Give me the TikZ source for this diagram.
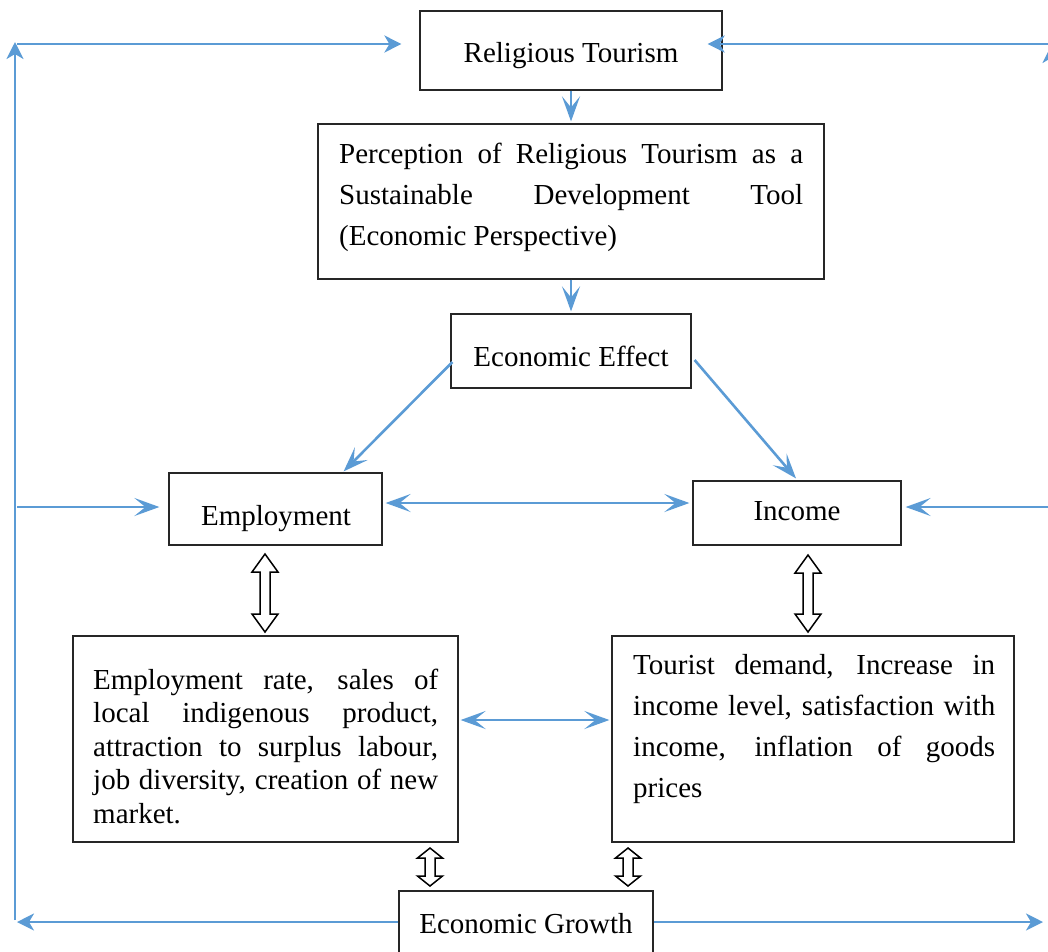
\documentclass[tikz,border=0pt]{standalone}
\usepackage{fontspec}
\setmainfont{Liberation Serif}
\usetikzlibrary{arrows.meta,calc}
\definecolor{lblue}{HTML}{5B9BD5}
\tikzset{
  box/.style={draw=black!85, line width=1.2pt, fill=none, inner sep=0pt},
  txt/.style={inner sep=0pt, font=\fontsize{29}{41}\selectfont},
  ptxt/.style={inner sep=0pt, align=justify, font=\fontsize{29}{41}\selectfont},
  sharr/.style={draw=lblue, line width=2.6pt, -{Stealth[length=17pt,width=17pt,inset=5pt]}},
  lgarr/.style={draw=lblue, line width=2.6pt, -{Stealth[length=25pt,width=18pt,inset=11pt]}},
  lgdarr/.style={draw=lblue, line width=2.6pt, {Stealth[length=25pt,width=18pt,inset=11pt]}-{Stealth[length=25pt,width=18pt,inset=11pt]}},
  hollow/.style={draw=black, line width=1.5pt, fill=white, line join=miter}
}
\newcommand\hollowarrow[5]{%
  \draw[hollow] (#1,#2) -- (#1+#5,#2+#4) -- (#1+5,#2+#4) -- (#1+5,#3-#4) -- (#1+#5,#3-#4) -- (#1,#3) -- (#1-#5,#3-#4) -- (#1-5,#3-#4) -- (#1-5,#2+#4) -- (#1-#5,#2+#4) -- cycle;}
\begin{document}
\begin{tikzpicture}[x=1pt,y=-1pt]
\useasboundingbox (0,0) rectangle (1048,951);
\clip (0,0) rectangle (1048,951);

% boxes
\node[box, minimum width=302, minimum height=79] (rt) at (571,50.5) {};
\node[txt, anchor=base] (rtt) at (571,62) {Religious Tourism};

\node[box, minimum width=506, minimum height=155] (perc) at (571,201.5) {};
\node[ptxt, text width=464, anchor=base west] (perct) at (339,163)
  {Perception of Religious Tourism as a\linebreak Sustainable Development Tool\linebreak (Economic Perspective)};

\node[box, minimum width=240, minimum height=74] (ee) at (571,351) {};
\node[txt, anchor=base] (eet) at (571,366) {Economic Effect};

\node[box, minimum width=213, minimum height=72] (emp) at (275.5,509) {};
\node[txt, anchor=base] (empt) at (276,525) {Employment};

\node[box, minimum width=208, minimum height=64] (inc) at (797,513) {};
\node[txt, anchor=base] (inct) at (797,520) {Income};

\node[box, minimum width=385, minimum height=206] (lb) at (265.5,739) {};
\node[ptxt, text width=345, anchor=base west, font=\fontsize{29}{33.5}\selectfont] (lbt) at (93,689)
  {Employment rate, sales of\linebreak local indigenous product,\linebreak attraction to surplus labour,\linebreak job diversity, creation of new\linebreak market.};

\node[box, minimum width=402, minimum height=206] (rb) at (813,739) {};
\node[ptxt, text width=362, anchor=base west] (rbt) at (633,674)
  {Tourist demand, Increase in\linebreak income level, satisfaction with\linebreak income, inflation of goods\linebreak prices};

\node[box, minimum width=254, minimum height=70] (eg) at (526,926) {};
\node[txt, anchor=base] (egt) at (526,933) {Economic Growth};

% outer frame coordinates
\coordinate (bl) at (15,920);
\coordinate (tl) at (15,42);
\coordinate (tlh) at (17,44);
\coordinate (tr) at (1048,44);
\coordinate (brv) at (1051,922);
\coordinate (trv) at (1051,46);
\coordinate (ml) at (17,507);
\coordinate (mr) at (1048,507);
\coordinate (bll) at (17,922);
\coordinate (brr) at (1043,922);

% outer loop arrows
\draw[sharr] (bl) -- (tl);
\draw[sharr] (tlh) -- ($(rt.west)+(-18,-6.5)$);
\draw[sharr] (tr) -- ($(rt.east)+(-15,-6.5)$);
\draw[sharr] (brv) -- (trv);
\draw[sharr] (eg.west |- bll) -- (bll);
\draw[sharr] (eg.east |- bll) -- (brr);
\draw[lgarr] (ml) -- ($(emp.west)+(-9,-2)$);
\draw[lgarr] (mr) -- ($(inc.east)+(4,-6)$);

% inner arrows
\draw[lgarr] (rt.south) -- ($(perc.north)+(0,-2)$);
\draw[lgarr] (perc.south) -- ($(ee.north)+(0,-2)$);
\draw[lgarr] ($(ee.west)+(2,11)$) -- ($(emp.north east)+(-39,-1)$);
\draw[lgarr] ($(ee.east)+(3,9)$) -- ($(inc.north)+(-1,-2)$);
\draw[lgdarr] ($(emp.east)+(3,-6)$) -- ($(inc.west)+(-3,-10)$);
\draw[lgdarr] ($(lb.east)+(2,-19)$) -- ($(rb.west)+(-2,-19)$);

% hollow double arrows
\hollowarrow{265}{554}{632}{18}{13}
\hollowarrow{808}{555}{632}{18}{13}
\hollowarrow{430}{848}{886}{10}{12.5}
\hollowarrow{628}{848}{886}{10}{12.5}
\end{tikzpicture}
\end{document}
